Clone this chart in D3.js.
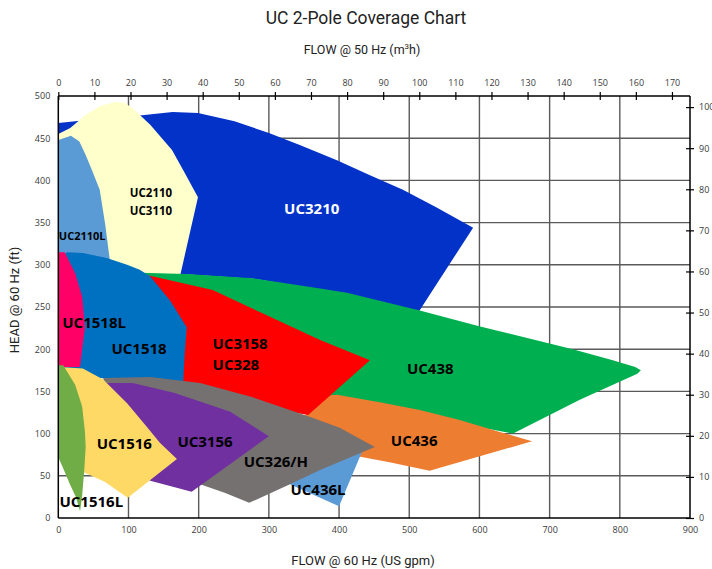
<!DOCTYPE html>
<html>
<head>
<meta charset="utf-8">
<script src="https://cdn.jsdelivr.net/npm/d3@7"></script>
<style>
body { margin: 0; background: #fff; }
svg { display: block; font-family: "Open Sans", sans-serif; }
.tick text { fill: #3a3a3a; font-size: 9px; font-family: "Open Sans", sans-serif; }
.grid line { stroke: #5a5a5a; stroke-width: 1.4; }
.frame { stroke: #000; stroke-width: 1.5; }
.area-label { font-weight: bold; font-size: 15px; text-anchor: middle; }
.axis-title { font-family: Roboto, sans-serif; fill: #222; text-anchor: middle; }
</style>
</head>
<body>
<svg width="712" height="569"></svg>
<script>
// tick values
let gpmTicks = [0, 100, 200, 300, 400, 500, 600, 700, 800, 900];
let m3hTicks = [0, 10, 20, 30, 40, 50, 60, 70, 80, 90, 100, 110, 120, 130, 140, 150, 160, 170];
let ftTicks = [0, 50, 100, 150, 200, 250, 300, 350, 400, 450, 500];
let mTicks = [0, 10, 20, 30, 40, 50, 60, 70, 80, 90, 100];

// coverage outlines, [flow US gpm, head ft]
let uc3210 = [[0, 468], [59, 473], [116, 477], [163, 481], [199, 480], [251, 470], [301, 456], [344, 442],
  [397, 424], [444, 406], [491, 389], [539, 368], [591, 344], [514, 245], [397, 267], [283, 283],
  [159, 290], [59, 294], [0, 296]];
let uc2110 = [[0, 455], [17, 462], [38, 477], [59, 488], [81, 493], [95, 492], [109, 483], [131, 466],
  [162, 436], [180, 409], [199, 380], [173, 285], [74, 290], [0, 290]];
let uc2110L = [[0, 448], [18, 453], [30, 446], [39, 430], [48, 412], [59, 389], [67, 347], [73, 308],
  [76, 294], [0, 294]];
let uc438 = [[102, 291], [183, 289], [277, 284], [373, 272], [411, 267], [515, 246], [601, 227],
  [733, 200], [790, 187], [822, 179], [830, 175], [825, 171], [743, 140], [648, 100], [572, 112],
  [487, 128], [401, 134], [273, 128], [131, 160], [110, 260]];
let uc436 = [[384, 145], [397, 146], [458, 137], [515, 128], [572, 116], [629, 102], [675, 91],
  [529, 56], [472, 66], [415, 75], [358, 92], [344, 116]];
let uc3158 = [[126, 288], [220, 270], [287, 244], [373, 211], [444, 187], [356, 122], [273, 134],
  [178, 158], [116, 164], [116, 270]];
let uc1518 = [[12, 315], [35, 314], [69, 308], [98, 300], [116, 294], [131, 286], [159, 258],
  [183, 226], [180, 193], [178, 161], [131, 161], [59, 166], [7, 173], [0, 173], [0, 305]];
let uc1518L = [[0, 315], [9, 315], [24, 290], [34, 262], [38, 226], [35, 207], [31, 179], [0, 179]];
let uc436L = [[273, 57], [387, 92], [433, 79], [400, 14], [330, 40]];
let uc326 = [[64, 166], [131, 167], [202, 160], [277, 143], [358, 120], [401, 107], [451, 84],
  [373, 57], [330, 40], [272, 18], [237, 30], [202, 40], [145, 57], [74, 116]];
let uc3156 = [[70, 160], [106, 160], [166, 148], [245, 126], [300, 97], [190, 31], [131, 44],
  [88, 69], [59, 140]];
let uc1516 = [[2, 179], [35, 177], [64, 164], [98, 136], [126, 108], [145, 89], [169, 70], [99, 24],
  [66, 43], [37, 54], [24, 69], [2, 100]];
let uc1516L = [[0, 181], [7, 181], [24, 158], [34, 132], [38, 102], [39, 84], [37, 57], [34, 27],
  [31, 8], [25, 25], [17, 39], [8, 57], [0, 72]];

// labels, [flow gpm, head ft] of text centre
let labels = [
  { text: 'UC3210', at: [361, 367], fill: '#fff' },
  { text: 'UC2110', at: [132, 385], size: 11.5 },
  { text: 'UC3110', at: [132, 364], size: 11.5 },
  { text: 'UC2110L', at: [34, 334], size: 11 },
  { text: 'UC1518L', at: [51, 231] },
  { text: 'UC1518', at: [115, 200] },
  { text: 'UC3158', at: [259, 207] },
  { text: 'UC328', at: [253, 181] },
  { text: 'UC438', at: [530, 177] },
  { text: 'UC436', at: [507, 91] },
  { text: 'UC326/H', at: [310, 67] },
  { text: 'UC436L', at: [370, 34] },
  { text: 'UC3156', at: [209, 90] },
  { text: 'UC1516', at: [94, 88] },
  { text: 'UC1516L', at: [47, 19] }
];

// bottom to top drawing order
let areas = [
  { name: 'UC3210', pts: uc3210, color: '#0232c8' },
  { name: 'UC2110', pts: uc2110, color: '#ffffcc' },
  { name: 'UC2110L', pts: uc2110L, color: '#5b9bd5' },
  { name: 'UC438', pts: uc438, color: '#00b050' },
  { name: 'UC436', pts: uc436, color: '#ed7d31' },
  { name: 'UC3158', pts: uc3158, color: '#ff0000' },
  { name: 'UC1518', pts: uc1518, color: '#0070c0' },
  { name: 'UC1518L', pts: uc1518L, color: '#ff0066' },
  { name: 'UC436L', pts: uc436L, color: '#5b9bd5' },
  { name: 'UC326/H', pts: uc326, color: '#767171' },
  { name: 'UC3156', pts: uc3156, color: '#7030a0' },
  { name: 'UC1516', pts: uc1516, color: '#ffd966' },
  { name: 'UC1516L', pts: uc1516L, color: '#70ad47' }
];

var svg = d3.select("svg");
let plotLeft = 58.3, plotRight = 690, plotTop = 96, plotBottom = 518;

let x = d3.scaleLinear().domain([0, 900]).range([plotLeft, plotRight]);
let y = d3.scaleLinear().domain([0, 500]).range([plotBottom, plotTop]);
let xTop = d3.scaleLinear().domain([0, 175]).range([plotLeft, plotRight]);
let yRight = d3.scaleLinear().domain([0, 102.7]).range([plotBottom, plotTop]);

// grid
let grid = svg.append('g').attr('class', 'grid');
grid.selectAll('.vg')
  .data(gpmTicks.filter(d => d > 0 && d < 900))
  .enter().append('line')
  .attr('x1', d => x(d)).attr('x2', d => x(d))
  .attr('y1', plotTop).attr('y2', plotBottom);
grid.selectAll('.hg')
  .data(ftTicks.filter(d => d > 0 && d < 500))
  .enter().append('line')
  .attr('x1', plotLeft).attr('x2', plotRight)
  .attr('y1', d => y(d)).attr('y2', d => y(d));

// coverage areas
let outline = d3.line()
  .x(d => x(d[0]))
  .y(d => y(d[1]))
  .curve(d3.curveLinearClosed);

svg.append('g').attr('id', 'areas')
  .selectAll('path')
  .data(areas)
  .enter().append('path')
  .attr('d', d => outline(d.pts))
  .attr('fill', d => d.color);

// frame
let frame = svg.append('g');
frame.append('line').attr('class', 'frame').attr('x1', plotLeft).attr('x2', plotRight).attr('y1', plotTop).attr('y2', plotTop);
frame.append('line').attr('class', 'frame').attr('x1', plotRight).attr('x2', plotRight).attr('y1', plotTop).attr('y2', plotBottom);
frame.append('line').attr('class', 'frame').attr('x1', plotLeft).attr('x2', plotLeft).attr('y1', plotTop).attr('y2', plotBottom);
frame.append('line').attr('class', 'frame').attr('x1', plotLeft).attr('x2', plotRight).attr('y1', plotBottom).attr('y2', plotBottom);

// axes
let axB = svg.append('g').attr('transform', translate(0, plotBottom))
  .call(d3.axisBottom(x).tickValues(gpmTicks).tickSize(0).tickPadding(9));
let axL = svg.append('g').attr('transform', translate(plotLeft, 0))
  .call(d3.axisLeft(y).tickValues(ftTicks).tickSize(0).tickPadding(8));
let axT = svg.append('g').attr('transform', translate(0, plotTop))
  .call(d3.axisTop(xTop).tickValues(m3hTicks).tickSize(4).tickPadding(6));
let axR = svg.append('g').attr('transform', translate(plotRight, 0))
  .call(d3.axisRight(yRight).tickValues(mTicks).tickSize(4).tickPadding(5));

[axB, axL, axT, axR].forEach(a => {
  a.select('.domain').remove();
  a.attr('font-family', null).attr('font-size', null);
});
axT.selectAll('.tick line').attr('y1', 4).attr('stroke', '#000').attr('stroke-width', 1.2);
axR.selectAll('.tick line').attr('x1', -4).attr('stroke', '#000').attr('stroke-width', 1.2);

// area labels
svg.append('g').selectAll('text')
  .data(labels)
  .enter().append('text')
  .attr('class', 'area-label')
  .attr('x', d => x(d.at[0]))
  .attr('y', d => y(d.at[1]))
  .attr('dy', '0.35em')
  .style('font-size', d => d.size ? d.size + 'px' : null)
  .attr('fill', d => d.fill || '#000')
  .text(d => d.text);

// titles
svg.append('text').attr('class', 'axis-title')
  .attr('x', 366).attr('y', 24).style('font-size', '17.5px')
  .text('UC 2-Pole Coverage Chart');

let sub = svg.append('text').attr('class', 'axis-title')
  .attr('x', 362).attr('y', 54).style('font-size', '12.5px');
sub.append('tspan').text('FLOW @ 50 Hz (m');
sub.append('tspan').attr('dy', -5).style('font-size', '8px').text('3');
sub.append('tspan').attr('dy', 5).text('h)');

svg.append('text').attr('class', 'axis-title')
  .attr('x', 363).attr('y', 565).style('font-size', '13px')
  .text('FLOW @ 60 Hz (US gpm)');

svg.append('text').attr('class', 'axis-title')
  .attr('transform', 'translate(19,300) rotate(-90)')
  .style('font-size', '13px')
  .text('HEAD @ 60 Hz (ft)');

function translate(x, y) {
  return `translate(${x},${y})`;
}
</script>
</body>
</html>
